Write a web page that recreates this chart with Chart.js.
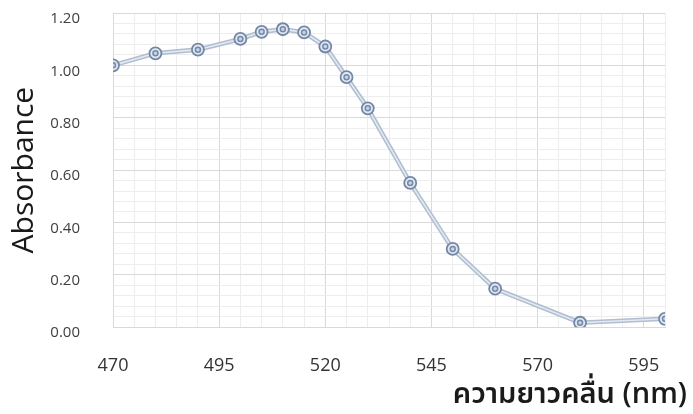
<!DOCTYPE html>
<html>
<head>
<meta charset="utf-8">
<script src="https://cdn.jsdelivr.net/npm/chart.js@4"></script>
<style>
  html, body { margin: 0; padding: 0; background: #ffffff; }
  #wrap { width: 693px; height: 414px; }
</style>
</head>
<body>
<div id="wrap"><canvas id="c" width="693" height="414"></canvas></div>
<script>
// Absorption spectrum: wavelength (nm) vs absorbance
const wavelengths = [470, 480, 490, 500, 505, 510, 515, 520, 525, 530, 540, 550, 560, 580, 600];
const absorbance  = [1.000, 1.046, 1.060, 1.101, 1.128, 1.138, 1.126, 1.072, 0.955, 0.836, 0.551, 0.299, 0.147, 0.017, 0.032];

// Axis settings
const xMin = 470, xMax = 600, xMinorStep = 5, xMajorStep = 25;
const yMin = 0, yMax = 1.2, yMinorStep = 0.04, yMajorStep = 0.2;

const yTitle = 'Absorbance';
const xTitle = 'ความยาวคลื่น (nm)';

const points = wavelengths.map((w, i) => ({ x: w, y: absorbance[i] }));

const FONT = "'Open Sans', 'Noto Sans', 'Noto Sans Thai', 'Loma', 'DejaVu Sans', sans-serif";
const MAJOR = '#d9d9d9';
const MINOR = '#ededed';

const isMajorX = v => Math.round(v - xMin) % xMajorStep === 0;
const isMajorY = v => Math.round(v * 100) % Math.round(yMajorStep * 100) === 0;

// fixed axis box sizes; label overhang is already covered by the layout padding
const fixBox = (w, h) => s => {
  if (w !== null) s.width = w;
  if (h !== null) s.height = h;
  s.paddingTop = 0; s.paddingBottom = 0; s.paddingLeft = 0; s.paddingRight = 0;
};

new Chart(document.getElementById('c'), {
  type: 'scatter',
  data: {
    datasets: [
      { // inner dot of each marker
        data: points,
        showLine: false,
        pointRadius: 2.5,
        pointBorderWidth: 1.5,
        pointBorderColor: '#7589a8',
        pointBackgroundColor: '#c8d3e3',
        order: 0
      },
      { // outer ring of each marker plus the light core of the line
        data: points,
        showLine: true,
        borderColor: '#e3e9f1',
        borderWidth: 1.6,
        pointRadius: 6,
        pointBorderWidth: 1.8,
        pointBorderColor: '#7387a6',
        pointBackgroundColor: '#e1e8f1',
        order: 1
      },
      { // outer band of the line
        data: points,
        showLine: true,
        borderColor: '#b0bed1',
        borderWidth: 4.6,
        pointRadius: 0,
        order: 2
      }
    ]
  },
  options: {
    responsive: false,
    animation: false,
    events: [],
    layout: { padding: { top: 13, right: 6, bottom: 2, left: 0 } },
    plugins: {
      legend: { display: false },
      tooltip: { enabled: false },
      title: {
        display: true,
        text: xTitle,
        position: 'bottom',
        align: 'end',
        color: '#1a1a1a',
        font: { family: FONT, size: 29, weight: '600' },
        padding: { top: 6, bottom: 0 }
      }
    },
    scales: {
      x: {
        type: 'linear',
        min: xMin,
        max: xMax,
        afterFit: fixBox(null, 44),
        border: { display: true, color: MAJOR, width: 1 },
        grid: {
          drawTicks: false,
          color: c => (c.tick && isMajorX(c.tick.value)) ? MAJOR : MINOR,
          lineWidth: 1
        },
        ticks: {
          stepSize: xMinorStep,
          autoSkip: false,
          maxRotation: 0,
          minRotation: 0,
          padding: 28,
          color: '#333333',
          font: { family: FONT, size: 18 },
          callback: v => isMajorX(v) ? String(v) : ''
        }
      },
      y: {
        type: 'linear',
        min: yMin,
        max: yMax,
        afterFit: fixBox(113, null),
        border: { display: true, color: MAJOR, width: 1 },
        grid: {
          drawTicks: false,
          color: c => (c.tick && isMajorY(c.tick.value)) ? MAJOR : MINOR,
          lineWidth: 1
        },
        ticks: {
          stepSize: yMinorStep,
          autoSkip: false,
          padding: 33,
          labelOffset: 6,
          color: '#404040',
          font: { family: FONT, size: 15 },
          callback: v => isMajorY(v) ? v.toFixed(2) : ''
        },
        title: {
          display: true,
          text: yTitle,
          color: '#1a1a1a',
          font: { family: FONT, size: 30 },
          padding: { top: 6, bottom: 10 }
        }
      },
      yRight: {
        type: 'linear',
        position: 'right',
        afterFit: fixBox(22, null),
        border: { display: false },
        grid: { display: false, drawTicks: false },
        ticks: { display: false }
      }
    }
  }
});
</script>
</body>
</html>
